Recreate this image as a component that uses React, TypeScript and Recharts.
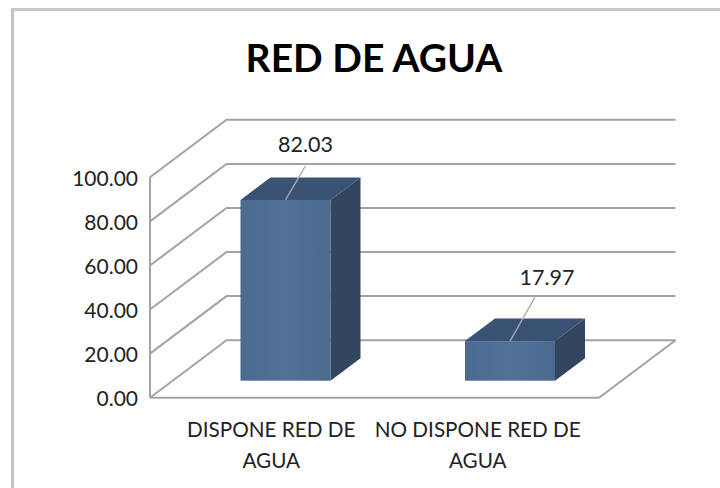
import React from 'react';
import { BarChart, Bar, XAxis, YAxis, CartesianGrid, LabelList } from 'recharts';

// Values
const categories = ['DISPONE RED DE AGUA', 'NO DISPONE RED DE AGUA'];
const categoryLines = [
  ['DISPONE RED DE', 'AGUA'],
  ['NO DISPONE RED DE', 'AGUA'],
];
const percentages = [82.03, 17.97];
const yTicks = [0, 20, 40, 60, 80, 100];

const chartData = categories.map((name, i) => ({ name, value: percentages[i] }));

const FONT = 'Lato, sans-serif';
const GRID_COLOR = '#a3a3a3';
const PLOT_BOTTOM = 397.7;

// fake 3d: the floor/walls depth and how far the bar sits inside it
const WALL_DX = 76.5;
const WALL_DY = 57.5;
const BAR_DX = 23.5;
const BAR_DY = 17;
const BAR_DEPTH_X = 30;
const BAR_DEPTH_Y = 22.5;

// hand placed labels, as in the original chart
const labelOffsets = [
  { dx: 20, dy: -55.5, lineX: 20, lineY: -34 },
  { dx: 37, dy: -64.5, lineX: 25, lineY: -44 },
];
const tickNudges = [9, -9];

const Bar3D = (props: any) => {
  const { x, y, width, height } = props;
  const left = x + BAR_DX;
  const right = left + width;
  const top = y - BAR_DY;
  const bottom = top + height;
  return (
    <g>
      <polygon
        points={`${left},${top} ${right},${top} ${right + BAR_DEPTH_X},${top - BAR_DEPTH_Y} ${left + BAR_DEPTH_X},${top - BAR_DEPTH_Y}`}
        fill="#3a5273"
      />
      <polygon
        points={`${right},${top} ${right + BAR_DEPTH_X},${top - BAR_DEPTH_Y} ${right + BAR_DEPTH_X},${bottom - BAR_DEPTH_Y} ${right},${bottom}`}
        fill="#32465f"
      />
      <rect x={left} y={top} width={width} height={height} fill="url(#barFront)" />
    </g>
  );
};

const ValueLabel = (props: any) => {
  const { x, y, width, value, index } = props;
  const off = labelOffsets[index];
  const cx = x + BAR_DX + width / 2;
  const top = y - BAR_DY;
  return (
    <g>
      <line x1={cx} y1={top} x2={cx + off.lineX} y2={top + off.lineY} stroke="#a8adb3" strokeWidth={1.3} />
      <text
        x={cx + off.dx}
        y={top + off.dy}
        textAnchor="middle"
        dominantBaseline="central"
        fontFamily={FONT}
        fontSize={21.5}
        fill="#222"
      >
        {Number(value).toFixed(2)}
      </text>
    </g>
  );
};

const GridLine = (props: any) => {
  const { x1, x2, y1, key } = props;
  const isFloor = Math.abs(y1 - PLOT_BOTTOM) < 1;
  const backY = y1 - WALL_DY;
  return (
    <g key={key}>
      <polyline
        points={`${x1},${y1} ${x1 + WALL_DX},${backY} ${x2 + WALL_DX},${backY}`}
        fill="none"
        stroke={GRID_COLOR}
        strokeWidth={2}
      />
      {isFloor && (
        <line x1={x2} y1={y1} x2={x2 + WALL_DX} y2={backY} stroke={GRID_COLOR} strokeWidth={2} />
      )}
    </g>
  );
};

const CategoryTick = (props: any) => {
  const { x, index } = props;
  return (
    <text textAnchor="middle" fontFamily={FONT} fontSize={20.7} fill="#222">
      {categoryLines[index].map((line, i) => (
        <tspan key={line} x={x + tickNudges[index]} y={437 + i * 31}>
          {line}
        </tspan>
      ))}
    </text>
  );
};

export default function App() {
  return (
    <div style={{ position: 'fixed', left: 0, top: 0, width: 720, height: 488, background: '#fff' }}>
      <div
        style={{
          position: 'absolute',
          left: 11,
          top: 8,
          right: 0,
          bottom: 0,
          borderTop: '3px solid #c9c9c9',
          borderLeft: '3px solid #c2c2c2',
        }}
      />
      <div style={{ position: 'absolute', left: 0, top: 0 }}>
        <BarChart
          width={720}
          height={488}
          data={chartData}
          margin={{ top: 177.3, right: 121, bottom: 40.3, left: 90 }}
          barSize={90}
        >
          <defs>
            <linearGradient id="barFront" x1="0" y1="0" x2="1" y2="0">
              <stop offset="0%" stopColor="#4a6a90" />
              <stop offset="50%" stopColor="#527199" />
              <stop offset="100%" stopColor="#4a6a90" />
            </linearGradient>
          </defs>
          <text x={374} y={57} textAnchor="middle" dominantBaseline="central" fontFamily={FONT} fontWeight={700} fontSize={39} fill="#000">
            RED DE AGUA
          </text>
          <CartesianGrid vertical={false} horizontal={GridLine} />
          <XAxis
            dataKey="name"
            height={50}
            interval={0}
            tick={CategoryTick}
            tickLine={false}
            axisLine={{ stroke: GRID_COLOR, strokeWidth: 2 }}
          />
          <YAxis
            width={60}
            domain={[0, 100]}
            ticks={yTicks}
            tickFormatter={(v: number) => v.toFixed(2)}
            tickLine={false}
            tickMargin={6}
            axisLine={{ stroke: GRID_COLOR, strokeWidth: 2 }}
            tick={{ fontFamily: FONT, fontSize: 21, fill: '#222', dy: 1 }}
          />
          <Bar dataKey="value" shape={Bar3D} isAnimationActive={false}>
            <LabelList dataKey="value" content={ValueLabel} />
          </Bar>
        </BarChart>
      </div>
    </div>
  );
}
